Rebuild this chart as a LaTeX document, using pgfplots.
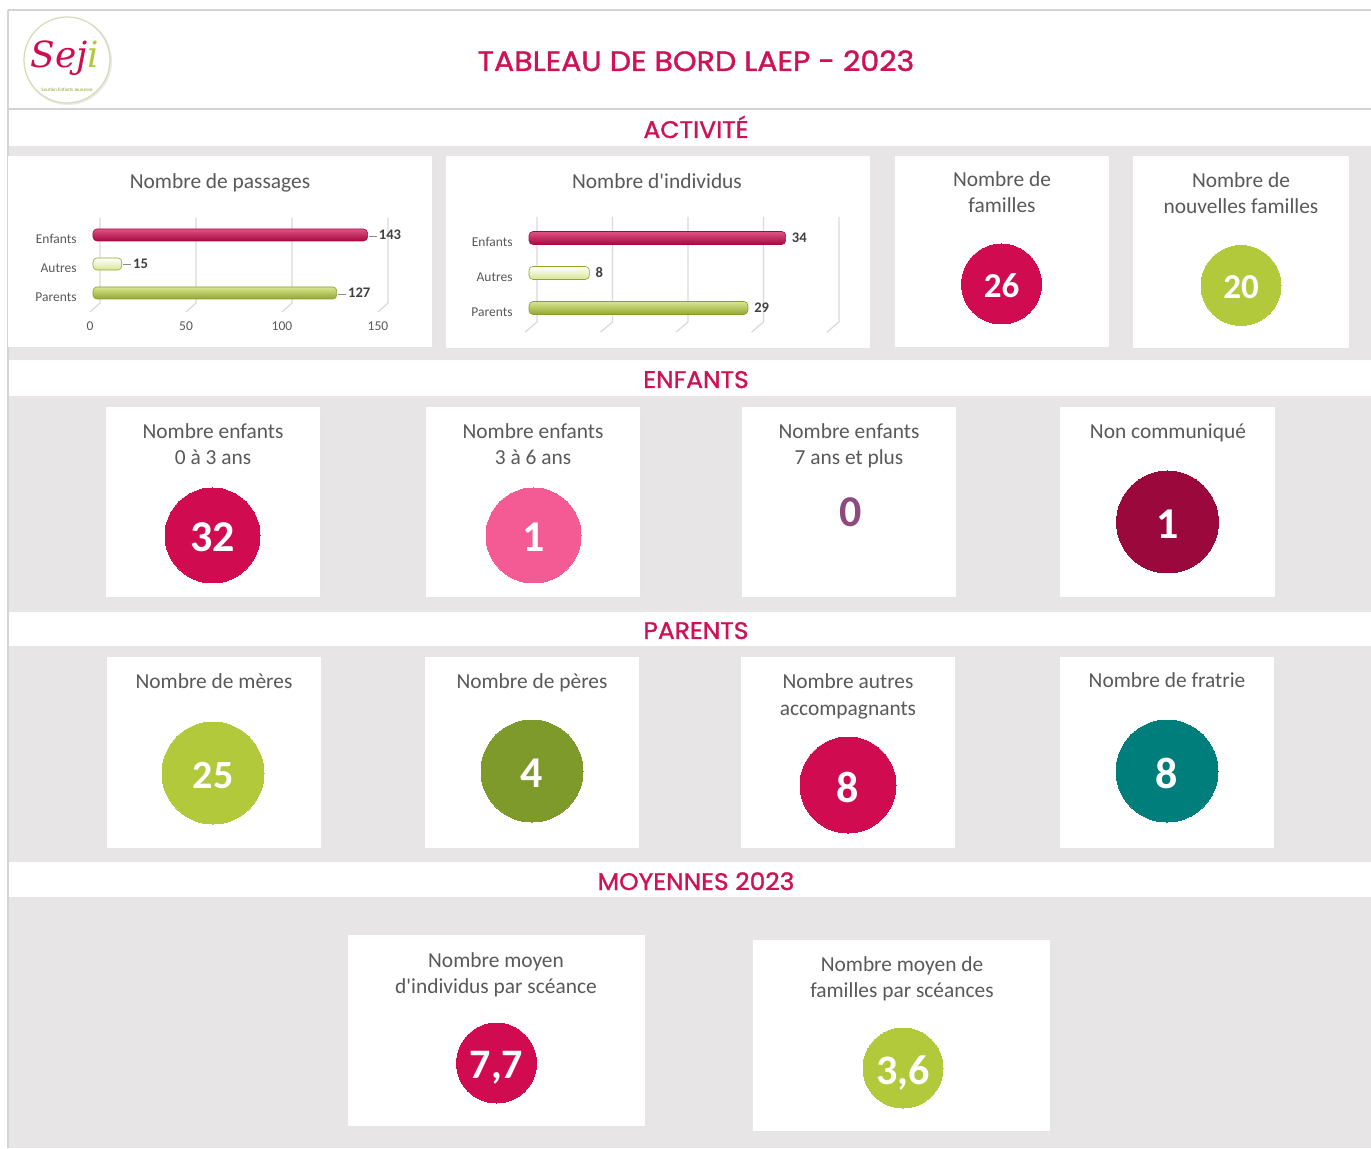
\documentclass[border=0pt]{standalone}
\usepackage{fontspec}
\setmainfont{Carlito}
\newfontfamily\titlefont{Poppins}[FakeBold=1.2]
\newfontfamily\logofont{DejaVu Serif}
\usepackage{pgfplots}
\pgfplotsset{compat=1.18}
\definecolor{crim}{HTML}{D00B50}
\definecolor{titlec}{HTML}{CE1256}
\definecolor{lime}{HTML}{B2C93C}
\definecolor{barlime}{HTML}{B9D03A}
\definecolor{pinkc}{HTML}{F45B95}
\definecolor{maroonc}{HTML}{9B083B}
\definecolor{olivec}{HTML}{7E9A2B}
\definecolor{tealc}{HTML}{007E7C}
\definecolor{mauve}{HTML}{8D4A7E}
\definecolor{bggray}{HTML}{E7E5E6}
\definecolor{txt}{HTML}{595959}
\definecolor{txtdark}{HTML}{404040}
\definecolor{framec}{HTML}{D4D4D4}
\definecolor{gridc}{HTML}{D9D9D9}
\newcommand{\fs}[1]{\fontsize{#1}{#1}\selectfont}
\newcommand{\card}[4]{%
  \fill[black!10] (#1+2,#2+2) rectangle (#3+2,#4+2);
  \fill[white] (#1,#2) rectangle (#3,#4);}
\newcommand{\ttl}[3]{\node[anchor=base, text=txt, font=\fs{10.7}, inner sep=0pt] at (#1,#2) {#3};}
\newcommand{\head}[2]{\node[anchor=base, text=titlec, font=\titlefont\fs{12}, inner sep=0pt] at (696,#1) {\scalebox{1.04}[1]{#2}};}
\pgfplotsset{
  kpi/.style n args={3}{only marks, mark=*, mark size=#1, color=#2,
    mark options={draw=#2, fill=#2, line width=0pt},
    point meta=explicit symbolic, nodes near coords, nodes near coords align=center,
    every node near coord/.append style={anchor=center, text=white, font=\bfseries\fs{#3}, text depth=0pt, inner sep=0pt, yshift=-1pt}},
  barchart/.style={scale only axis, anchor=south west, xbar, bar shift=0pt, clip=false,
    /pgf/number format/assume math mode=true,
    axis line style={draw=none}, major tick length=0pt,
    ytick={0,1,2}, yticklabels={Parents,Autres,Enfants},
    tick label style={font=\fs{6.75}, text=txt},
    yticklabel style={anchor=east, inner sep=0pt, xshift=-8pt, yshift=-2pt},
    point meta=x},
  redbar/.style={draw=crim!80!black, line width=0.3pt, top color=crim!70!white, middle color=crim, bottom color=crim!80!black, rounded corners=2pt},
  palebar/.style={draw=barlime!80!black, line width=0.3pt, top color=white, middle color=barlime!22!white, bottom color=barlime!55!white, rounded corners=2pt},
  limebar/.style={draw=barlime!75!black, line width=0.3pt, top color=barlime!55!white, middle color=barlime, bottom color=barlime!80!black, rounded corners=2pt},
}
\begin{document}
\begin{tikzpicture}
\useasboundingbox (0,0) rectangle (685.5pt,574.5pt);
\begin{axis}[at={(0,0)}, anchor=south west, scale only axis, width=685.5pt, height=574.5pt,
  xmin=0, xmax=1371, ymin=0, ymax=1149, y dir=reverse, hide axis, clip=false]
\fill[white] (0,0) rectangle (1371,1149);
% grey bands
\fill[bggray] (8,146) rectangle (1371,360);
\fill[bggray] (8,396) rectangle (1371,612);
\fill[bggray] (8,646) rectangle (1371,862);
\fill[bggray] (8,897) rectangle (1371,1148);
% frame lines
\draw[framec, line width=0.8pt] (8,10) -- (1371,10);
\draw[framec, line width=0.8pt] (8,109) -- (1371,109);
\draw[framec, line width=0.6pt] (8,10) -- (8,1148);
% header
\node[anchor=base, text=titlec, font=\titlefont\fs{14}, inner sep=0pt] at (696,71) {\scalebox{1.075}[1]{TABLEAU DE BORD LAEP - 2023}};
\head{138}{ACTIVITÉ}
\head{388}{ENFANTS}
\head{639}{PARENTS}
\head{890}{MOYENNES 2023}
% logo
\fill[black!8] (axis cs:68,61) circle[radius=22pt];
\draw[fill=white, draw=olivec!35, line width=0.6pt] (axis cs:67,60) circle[radius=21.5pt];
\node[inner sep=0pt, font=\logofont\itshape\fs{18}] at (65,58) {\textcolor{crim}{Sej}\textcolor{lime}{i}};
\node[inner sep=0pt, font=\fs{2.5}, text=lime!80!black] at (67,90) {Soutien Enfants Jeunesse};
% activite cards
\card{8}{156}{432}{347}
\card{446}{156}{870}{348}
\card{895}{156}{1109}{347}
\card{1133}{156}{1349}{348}
\ttl{220}{189}{Nombre de passages}
\ttl{657}{189}{Nombre d\textquotesingle individus}
\ttl{1002}{187}{Nombre de}
\ttl{1002}{213}{familles}
\ttl{1241}{188}{Nombre de}
\ttl{1241}{214}{nouvelles familles}
% enfants cards
\card{106}{407}{320}{597}
\card{426}{407}{640}{597}
\card{742}{407}{956}{597}
\card{1060}{407}{1275}{597}
\ttl{213}{439}{Nombre enfants}
\ttl{213}{465}{0 à 3 ans}
\ttl{533}{439}{Nombre enfants}
\ttl{533}{465}{3 à 6 ans}
\ttl{849}{439}{Nombre enfants}
\ttl{849}{465}{7 ans et plus}
\ttl{1168}{439}{Non communiqué}
% parents cards
\card{107}{657}{321}{848}
\card{425}{657}{639}{848}
\card{741}{657}{955}{848}
\card{1060}{657}{1274}{848}
\ttl{214}{689}{Nombre de mères}
\ttl{532}{689}{Nombre de pères}
\ttl{848}{689}{Nombre autres}
\ttl{848}{715}{accompagnants}
\ttl{1167}{688}{Nombre de fratrie}
% moyennes cards
\card{348}{935}{645}{1126}
\card{753}{940}{1050}{1131}
\ttl{496}{967}{Nombre moyen}
\ttl{496}{993}{d\textquotesingle individus par scéance}
\ttl{902}{971}{Nombre moyen de}
\ttl{902}{997}{familles par scéances}
% KPI circles
\addplot[kpi={20pt}{crim}{17.5}] coordinates {(1001.5,284) [26]};
\addplot[kpi={20pt}{lime}{17.5}] coordinates {(1241,285.5) [20]};
\addplot[kpi={23.75pt}{crim}{22}] coordinates {(212.5,535.5) [32]};
\addplot[kpi={23.75pt}{pinkc}{22}] coordinates {(533.5,535.5) [1]};
\addplot[only marks, mark=none, point meta=explicit symbolic, nodes near coords, nodes near coords align=center,
  every node near coord/.append style={anchor=center, text=mauve, font=\bfseries\fs{22}, text depth=0pt, inner sep=0pt}] coordinates {(851,512) [0]};
\addplot[kpi={25.5pt}{maroonc}{22}] coordinates {(1167.5,522) [1]};
\addplot[kpi={25.5pt}{lime}{20}] coordinates {(213,773) [25]};
\addplot[kpi={25.5pt}{olivec}{22}] coordinates {(532,771) [4]};
\addplot[kpi={24pt}{crim}{22}] coordinates {(848,785) [8]};
\addplot[kpi={25.5pt}{tealc}{22}] coordinates {(1167,771) [8]};
\addplot[kpi={20pt}{crim}{21}] coordinates {(496.5,1063) [{7,7}]};
\addplot[kpi={20pt}{lime}{21}] coordinates {(903,1068) [{3,6}]};
\end{axis}

% Chart 1 : Nombre de passages
\begin{axis}[barchart, at={(46.5pt,422.925pt)}, width=144pt, height=42.775pt,
  xmin=0, xmax=150, ymin=-0.35, ymax=2.6, bar width=6pt,
  xtick={0,50,100,150},
  xticklabel style={anchor=north, inner sep=0pt, yshift=-9pt, xshift=-1.5pt},
  nodes near coords={\textcolor{black!45}{\rule[0.22em]{4pt}{0.5pt}}\hspace{1pt}\pgfmathprintnumber{\pgfplotspointmeta}},
  every node near coord/.append style={anchor=west, inner sep=0pt, xshift=0.5pt, text=txtdark, font=\bfseries\fs{7.3}}]
\draw[gridc, line width=0.6pt] (axis cs:3.6,2.6) -- (axis cs:3.6,-0.35) -- (axis cs:-1.6,-0.66);
\draw[gridc, line width=0.6pt] (axis cs:53.6,2.6) -- (axis cs:53.6,-0.35) -- (axis cs:48.4,-0.66);
\draw[gridc, line width=0.6pt] (axis cs:103.6,2.6) -- (axis cs:103.6,-0.35) -- (axis cs:98.4,-0.66);
\draw[gridc, line width=0.6pt] (axis cs:153.6,2.6) -- (axis cs:153.6,-0.35) -- (axis cs:148.4,-0.66);
\addplot[redbar] coordinates {(143,2)};
\addplot[palebar] coordinates {(15,1)};
\addplot[limebar] coordinates {(127,0)};
\end{axis}

% Chart 2 : Nombre d'individus
\begin{axis}[barchart, at={(264.5pt,413.5pt)}, width=151pt, height=52.5pt,
  xmin=0, xmax=40, ymin=-0.4, ymax=2.6, bar width=6.5pt,
  xtick=\empty,
  nodes near coords,
  every node near coord/.append style={anchor=west, inner sep=0pt, xshift=3pt, text=txtdark, font=\bfseries\fs{7.3}}]
\draw[gridc, line width=0.6pt] (axis cs:1.06,2.6) -- (axis cs:1.06,-0.4) -- (axis cs:-0.53,-0.69);
\draw[gridc, line width=0.6pt] (axis cs:11.06,2.6) -- (axis cs:11.06,-0.4) -- (axis cs:9.47,-0.69);
\draw[gridc, line width=0.6pt] (axis cs:21.06,2.6) -- (axis cs:21.06,-0.4) -- (axis cs:19.47,-0.69);
\draw[gridc, line width=0.6pt] (axis cs:31.06,2.6) -- (axis cs:31.06,-0.4) -- (axis cs:29.47,-0.69);
\draw[gridc, line width=0.6pt] (axis cs:41.06,2.6) -- (axis cs:41.06,-0.4) -- (axis cs:39.47,-0.69);
\addplot[redbar] coordinates {(34,2)};
\addplot[palebar] coordinates {(8,1)};
\addplot[limebar] coordinates {(29,0)};
\end{axis}
\end{tikzpicture}
\end{document}
